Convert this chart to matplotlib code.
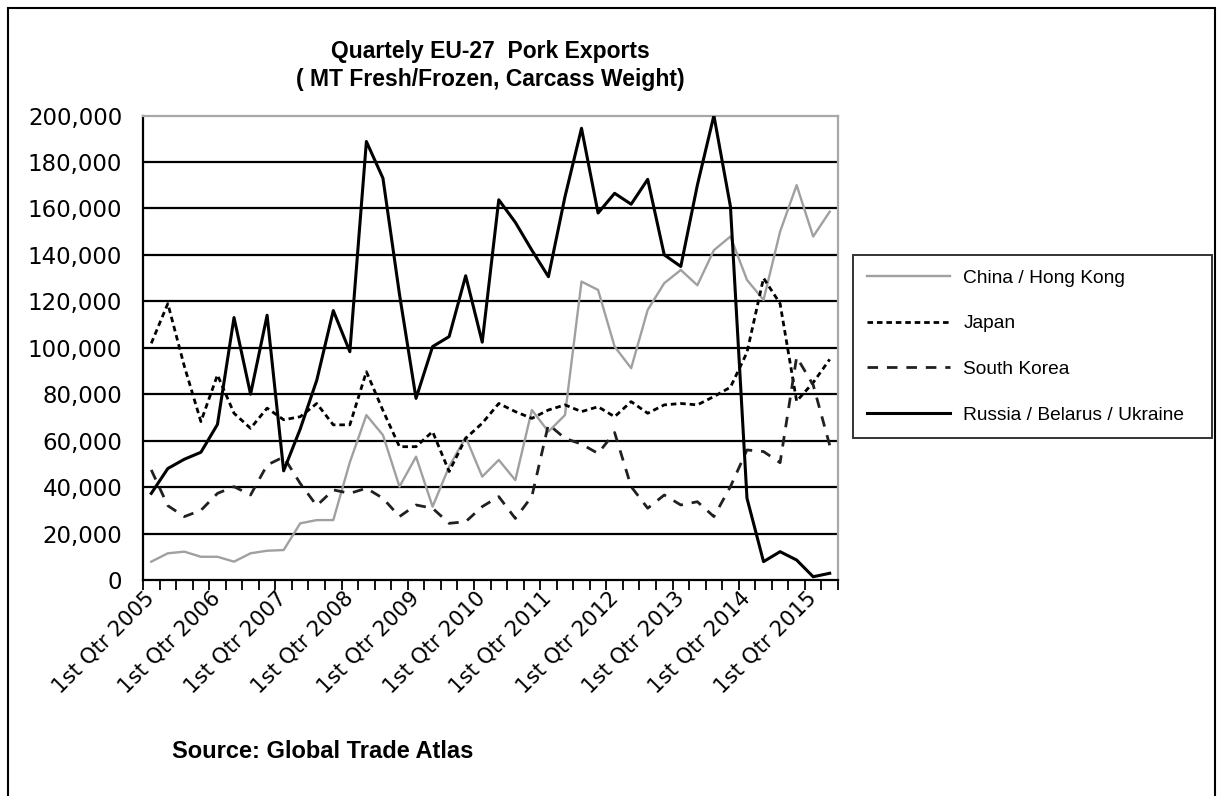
import matplotlib
matplotlib.use("Agg")
import matplotlib.pyplot as plt
from matplotlib.ticker import FuncFormatter, FixedLocator
from matplotlib.patches import Rectangle

plt.rcParams['font.family'] = ['Liberation Sans', 'DejaVu Sans']

# Quarters 2005 Q1 .. 2015 Q2 (42 quarters)
years = list(range(2005, 2016))
quarter_labels = [f"1st Qtr {y}" for y in years]  # labelled every 4th quarter
n_quarters = 42

# Values in thousand MT
china = [7.9, 11.5, 12.2, 10.0, 10.0, 7.9, 11.5, 12.6, 12.9, 24.4, 25.8, 25.8,
         50.7, 71.0, 62.4, 40.2, 53.1, 31.6, 48.8, 61.5, 44.5, 51.7, 43.0, 73.2,
         63.9, 71.0, 128.5, 124.9, 100.5, 91.2, 116.3, 127.8, 133.5, 126.9, 142.0, 147.9,
         129.2, 120.6, 150.0, 170.0, 147.9, 158.6]
japan = [101.9, 119.0, 92.0, 68.2, 88.3, 71.8, 65.3, 74.0, 69.0, 70.3, 76.0, 66.8,
         66.8, 89.7, 73.0, 57.4, 57.4, 63.9, 46.7, 61.0, 67.5, 76.0, 72.5, 69.6,
         73.2, 75.4, 72.5, 74.6, 70.3, 76.8, 71.8, 75.4, 76.0, 75.4, 79.0, 83.0,
         98.0, 130.0, 119.0, 77.0, 85.0, 95.0]
south_korea = [47.4, 32.0, 27.3, 30.0, 37.3, 40.2, 36.6, 49.5, 53.0, 41.6, 32.0, 38.8,
               37.3, 39.5, 35.2, 27.3, 32.3, 30.9, 24.4, 25.1, 31.6, 35.9, 26.5, 36.0,
               67.0, 61.0, 58.5, 54.5, 63.5, 40.2, 30.9, 36.6, 32.3, 33.7, 27.3, 40.2,
               56.0, 55.3, 50.5, 96.0, 84.0, 58.0]
russia = [37.3, 48.0, 52.0, 55.0, 67.0, 113.0, 80.0, 114.0, 47.0, 65.0, 86.0, 116.0,
          98.3, 188.8, 173.0, 123.0, 78.2, 100.5, 104.8, 131.0, 102.4, 163.7, 154.0, 142.0,
          130.6, 165.0, 194.5, 158.0, 166.5, 161.8, 172.5, 140.0, 135.0, 170.0, 200.0, 160.8,
          35.2, 7.9, 12.2, 8.6, 1.4, 2.9]

series_names = ["China / Hong Kong", "Japan", "South Korea", "Russia / Belarus / Ukraine"]
y_ticks = list(range(0, 200001, 20000))

W, H = 1223, 796
fig = plt.figure(figsize=(W / 100, H / 100), dpi=100)
fig.patch.set_facecolor('white')

ax = fig.add_axes([143 / W, 1 - 580 / H, (838 - 143) / W, (580 - 115.5) / H])

x = list(range(n_quarters))
to_mt = lambda s: [v * 1000 for v in s]

ax.plot(x, to_mt(china), color='#a0a0a0', lw=1.7, label=series_names[0], zorder=3)
ax.plot(x, to_mt(japan), color='black', lw=2.0, linestyle=(0, (2.0, 1.4)), label=series_names[1], zorder=4)
ax.plot(x, to_mt(south_korea), color='#202020', lw=2.0, linestyle=(0, (3.8, 3.2)), label=series_names[2], zorder=4)
ax.plot(x, to_mt(russia), color='black', lw=2.2, label=series_names[3], zorder=5)

ax.set_xlim(-0.5, n_quarters - 0.5)
ax.set_ylim(0, 200000)

tick_font = 'DejaVu Sans'

# y axis
ax.yaxis.set_major_locator(FixedLocator(y_ticks))
ax.yaxis.set_major_formatter(FuncFormatter(lambda v, p: f"{int(v):,}"))
ax.tick_params(axis='y', direction='out', length=0, pad=15)
for lab in ax.get_yticklabels():
    lab.set_fontfamily(tick_font)
    lab.set_fontsize(16.5)
ax.yaxis.grid(True, color='black', lw=1.6, zorder=1)
ax.set_axisbelow(True)
gl = ax.yaxis.get_gridlines()
gl[0].set_visible(False)
gl[-1].set_visible(False)

# x axis: tick marks at category boundaries, labels at category centres
ax.xaxis.set_major_locator(FixedLocator([i - 0.5 for i in range(n_quarters + 1)]))
ax.xaxis.set_major_formatter(FuncFormatter(lambda v, p: ""))
ax.tick_params(axis='x', which='major', direction='out', length=7, width=1.3, color='black')
label_pos = list(range(0, n_quarters, 4))
ax.xaxis.set_minor_locator(FixedLocator(label_pos))
ax.set_xticklabels(quarter_labels[:len(label_pos)], minor=True)
ax.tick_params(axis='x', which='minor', length=0, pad=11)
for lab in ax.get_xticklabels(minor=True):
    lab.set_fontfamily(tick_font)
    lab.set_fontsize(15.3)
    lab.set_rotation(45)
    lab.set_ha('right')
    lab.set_va('center')
    lab.set_rotation_mode('anchor')

for side in ['left', 'bottom']:
    ax.spines[side].set_color('black')
    ax.spines[side].set_linewidth(1.6)
for side in ['top', 'right']:
    ax.spines[side].set_color('#a8a8a8')
    ax.spines[side].set_linewidth(1.6)

# Title
fig.text(490 / W, 1 - 65.5 / H, "Quartely EU-27  Pork Exports\n( MT Fresh/Frozen, Carcass Weight)",
         ha='center', va='center', fontsize=16.5, fontweight='bold', linespacing=1.32)

# Source
fig.text(172 / W, 1 - 752 / H, "Source: Global Trade Atlas", ha='left', va='center',
         fontsize=17, fontweight='bold')

# Legend
leg = fig.legend(loc='center left',
                 bbox_to_anchor=(853 / W, 1 - 441 / H, (1212 - 853) / W, (441 - 252) / H),
                 mode='expand', borderaxespad=0, frameon=True, fancybox=False,
                 edgecolor='black', fontsize=13.8, handlelength=4.3, handletextpad=0.7,
                 labelspacing=1.48, borderpad=0.75)
leg.get_frame().set_linewidth(1.4)

# Outer chart border
fig.patches.append(Rectangle((8 / W, -0.05), (1215 - 8) / W, 1.05 - 8 / H,
                             transform=fig.transFigure, fill=False, edgecolor='black',
                             lw=1.5))

fig.savefig('out.png', dpi=100, facecolor='white')
